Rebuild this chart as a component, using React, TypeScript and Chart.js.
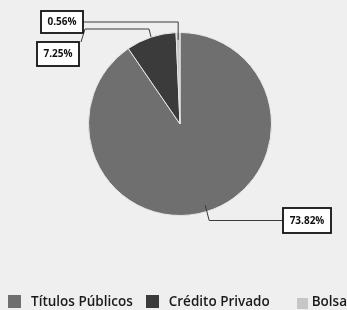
import React, { useEffect, useRef } from "react";
import { Chart, registerables } from "chart.js";

Chart.register(...registerables);

const categories = ["Títulos Públicos", "Crédito Privado", "Bolsa"];
const values = [73.82, 7.25, 0.56];
const valueLabels = ["73.82%", "7.25%", "0.56%"];
const colors = ["#6f6f6f", "#3b3b3b", "#c6c6c6"];

const BG = "#efefef";

// callout box layout (boxes & elbows), per slice
const callouts = [
  { box: { x: 283, y: 208, w: 48, h: 25 }, f: 0.93, route: "knee-right" },
  { box: { x: 37, y: 42, w: 42, h: 24 }, f: 1.0, route: "up-left", elbowY: 29 },
  { box: { x: 41, y: 11, w: 42, h: 22 }, f: 0.92, route: "straight-up" },
];

const calloutPlugin = {
  id: "callouts",
  afterDatasetsDraw(chart: any) {
    const ctx = chart.ctx;
    const meta = chart.getDatasetMeta(0);
    ctx.save();
    meta.data.forEach((arc: any, i: number) => {
      const c = callouts[i];
      const mid = (arc.startAngle + arc.endAngle) / 2;
      const ax = arc.x + Math.cos(mid) * arc.outerRadius * c.f;
      const ay = arc.y + Math.sin(mid) * arc.outerRadius * c.f;
      const b = c.box;
      const pts: [number, number][] = [[ax, ay]];
      if (c.route === "knee-right") {
        const my = b.y + b.h / 2;
        pts.push([ax + 4, my], [b.x, my]);
      } else if (c.route === "up-left") {
        const ey = (c as any).elbowY;
        pts.push([ax - 2, ey], [b.x + b.w + 6, ey], [b.x + b.w + 2, b.y]);
      } else {
        const my = b.y + b.h / 2;
        pts.push([ax, my], [b.x + b.w, my]);
      }
      ctx.beginPath();
      ctx.strokeStyle = "#3a3a3a";
      ctx.lineWidth = 1;
      pts.forEach((p, k) => (k === 0 ? ctx.moveTo(p[0], p[1]) : ctx.lineTo(p[0], p[1])));
      ctx.stroke();

      ctx.fillStyle = "#ffffff";
      ctx.fillRect(b.x, b.y, b.w, b.h);
      ctx.strokeStyle = "#111111";
      ctx.lineWidth = 1.8;
      ctx.strokeRect(b.x, b.y, b.w, b.h);
      ctx.fillStyle = "#111111";
      ctx.font = "bold 10px 'Open Sans', sans-serif";
      ctx.textAlign = "center";
      ctx.textBaseline = "middle";
      ctx.fillText(valueLabels[i], b.x + b.w / 2, b.y + b.h / 2 + 0.5);
    });
    ctx.restore();
  },
};

export default function App() {
  const ref = useRef<HTMLCanvasElement>(null);

  useEffect(() => {
    document.body.style.margin = "0";
    document.body.style.background = BG;
    const chart = new Chart(ref.current!, {
      type: "pie",
      data: {
        labels: categories,
        datasets: [
          {
            data: values,
            backgroundColor: colors,
            borderColor: "#e8e8e8",
            borderWidth: 1,
          },
        ],
      },
      options: {
        responsive: false,
        animation: false,
        layout: { padding: { left: 88, right: 75, top: 32, bottom: 94 } },
        plugins: {
          legend: { display: false },
          tooltip: { enabled: false },
        },
      },
      plugins: [calloutPlugin],
    });
    return () => chart.destroy();
  }, []);

  return (
    <div
      style={{
        position: "relative",
        width: 347,
        height: 310,
        overflow: "hidden",
        background: BG,
      }}
    >
      <canvas ref={ref} width={347} height={310} style={{ display: "block" }} />
      <div
        style={{
          position: "absolute",
          left: 8,
          top: 292,
          display: "flex",
          alignItems: "center",
          whiteSpace: "nowrap",
          fontFamily: "'Open Sans', sans-serif",
          fontSize: 13.5,
          fontWeight: 600,
          color: "#1a1a1a",
        }}
      >
        {categories.map((c, i) => (
          <div key={c} style={{ display: "flex", alignItems: "center", marginRight: i === 0 ? 13 : 27 }}>
            <span
              style={{
                display: "inline-block",
                width: i === 2 ? 11 : 13,
                height: i === 2 ? 11 : 13,
                background: colors[i],
                marginRight: i === 2 ? 4 : 10,
                marginTop: i === 2 ? 5 : 0,
              }}
            />
            <span>{c}</span>
          </div>
        ))}
      </div>
    </div>
  );
}
